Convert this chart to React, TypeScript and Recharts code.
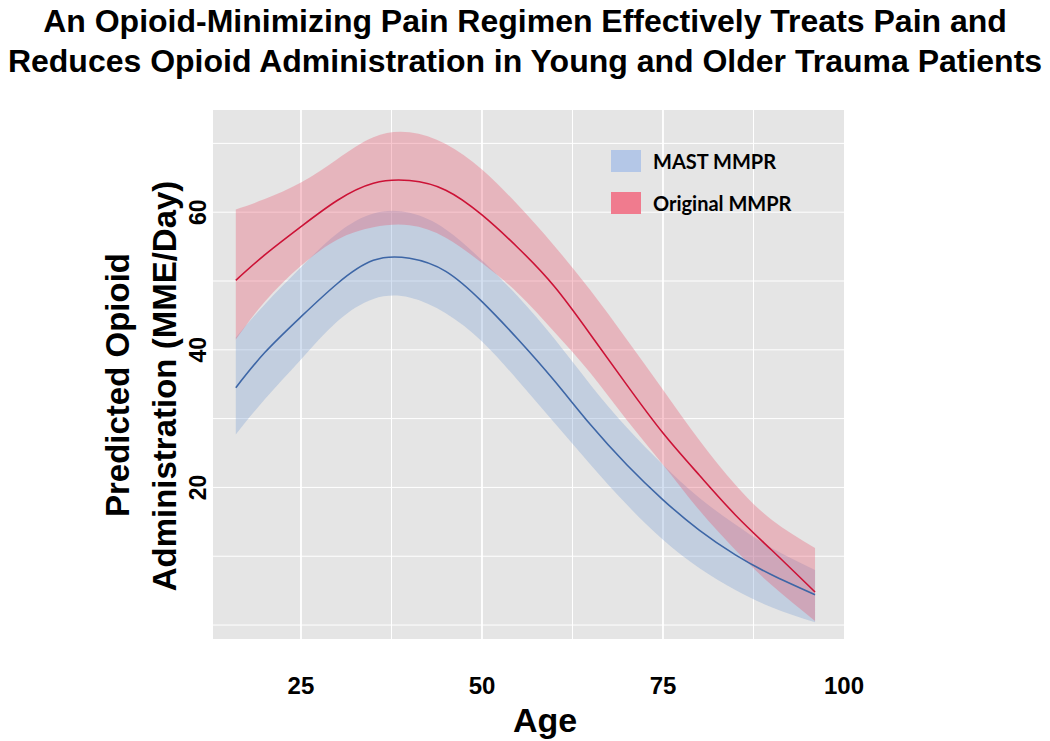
import { ComposedChart, Area, Line, XAxis, YAxis, CartesianGrid } from "recharts";

const AGES = [16, 20, 25, 30, 35, 40, 45, 50, 55, 60, 65, 70, 75, 80, 85, 90, 96];

// MAST MMPR (blue)
const MAST_FIT = [34.5, 39.6, 44.8, 49.6, 53.0, 53.3, 51.4, 47.0, 41.5, 35.5, 29.1, 23.3, 18.2, 13.8, 10.2, 7.3, 4.4];
const MAST_LOW = [27.7, 32.8, 38.6, 44.1, 47.4, 47.6, 45.3, 41.2, 35.5, 29.4, 23.3, 17.5, 12.4, 8.3, 5.1, 2.6, 0.4];
const MAST_HIGH = [41.8, 46.6, 52.0, 56.9, 59.8, 59.9, 57.5, 53.0, 47.7, 41.6, 34.9, 28.7, 23.3, 18.5, 14.6, 11.2, 8.0];

// Original MMPR (red)
const ORIG_FIT = [50.1, 53.8, 57.9, 61.7, 64.2, 64.6, 63.2, 59.6, 54.8, 49.2, 42.2, 34.9, 27.9, 21.8, 16.0, 10.9, 4.8];
const ORIG_LOW = [41.5, 47.0, 52.2, 56.0, 57.8, 58.1, 56.3, 52.6, 48.2, 42.6, 36.6, 29.8, 23.3, 16.7, 10.9, 5.8, 0.6];
const ORIG_HIGH = [60.4, 61.9, 64.3, 67.7, 70.9, 71.6, 69.9, 66.2, 61.0, 55.1, 48.6, 41.5, 34.2, 26.9, 20.4, 15.3, 11.2];

const X_TICKS = [25, 50, 75, 100];
const Y_TICKS = [20, 40, 60];
const GRID_X_MAJOR = [25, 50, 75];
const GRID_X_MINOR = [37.5, 62.5, 87.5];
const GRID_Y = [0, 10, 20, 30, 40, 50, 60, 70];

const rows = AGES.map((age, i) => ({
  age,
  mast: MAST_FIT[i],
  mastBand: [MAST_LOW[i], MAST_HIGH[i]],
  orig: ORIG_FIT[i],
  origBand: [ORIG_LOW[i], ORIG_HIGH[i]],
}));

const ARIAL = "'Liberation Sans', Arial, sans-serif";

function XTick(props: any) {
  const { x, payload } = props;
  return (
    <text x={x} y={694} textAnchor="middle" fontFamily={ARIAL} fontWeight="bold" fontSize={24} fill="#000">
      {payload.value}
    </text>
  );
}

function YTick(props: any) {
  const { y, payload } = props;
  const bx = 206;
  return (
    <text x={bx} y={y} transform={`rotate(-90, ${bx}, ${y})`} textAnchor="middle" fontFamily={ARIAL} fontWeight="bold" fontSize={23} fill="#000">
      {payload.value}
    </text>
  );
}

function LegendBox() {
  const items = [
    { label: "MAST MMPR", color: "#B4C7E7" },
    { label: "Original MMPR", color: "#F07B8E" },
  ];
  return (
    <div
      style={{
        position: "absolute",
        left: 611,
        top: 140,
        fontFamily: "Lato, 'Open Sans', sans-serif",
        fontWeight: 700,
        fontSize: 20,
        color: "#000",
      }}
    >
      {items.map((it) => (
        <div key={it.label} style={{ display: "flex", alignItems: "center", height: 42 }}>
          <span style={{ width: 30, height: 22, background: it.color, marginRight: 12, display: "inline-block" }} />
          <span>{it.label}</span>
        </div>
      ))}
    </div>
  );
}

const vText = (cx: number, cy: number, text: string) => (
  <div
    style={{
      position: "absolute",
      left: cx - 250,
      top: cy - 20,
      width: 500,
      height: 40,
      lineHeight: "40px",
      textAlign: "center",
      transform: "rotate(-90deg)",
      fontFamily: ARIAL,
      fontWeight: "bold",
      fontSize: 33,
      whiteSpace: "nowrap",
    }}
  >
    {text}
  </div>
);

export default function App() {
  return (
    <div style={{ position: "absolute", left: 0, top: 0, width: 1050, height: 741, background: "#fff" }}>
      <div
        style={{
          position: "absolute",
          left: 0,
          top: 1,
          width: 1050,
          textAlign: "center",
          fontFamily: ARIAL,
          fontWeight: "bold",
          fontSize: 32,
          lineHeight: "40px",
          color: "#000",
        }}
      >
        An Opioid-Minimizing Pain Regimen Effectively Treats Pain and
        <br />
        Reduces Opioid Administration in Young and Older Trauma Patients
      </div>

      <ComposedChart width={1050} height={741} data={rows} margin={{ top: 110, right: 206, bottom: 42, left: 173 }}>
        <CartesianGrid
          fill="#E5E5E5"
          stroke="#FFFFFF"
          strokeWidth={1}
          horizontalValues={GRID_Y}
          verticalValues={GRID_X_MINOR}
        />
        <CartesianGrid fill="none" stroke="#FFFFFF" strokeWidth={1.8} horizontal={false} verticalValues={GRID_X_MAJOR} />
        <XAxis
          dataKey="age"
          type="number"
          domain={[12.85, 100]}
          ticks={X_TICKS}
          height={60}
          axisLine={false}
          tickLine={false}
          tick={<XTick />}
          interval={0}
        />
        <YAxis
          type="number"
          domain={[-2.03, 74.85]}
          allowDataOverflow
          ticks={Y_TICKS}
          width={40}
          axisLine={false}
          tickLine={false}
          tick={<YTick />}
          interval={0}
        />
        <Area
          type="natural"
          dataKey="mastBand"
          stroke="none"
          fill="#6F98D0"
          fillOpacity={0.3}
          isAnimationActive={false}
          activeDot={false}
        />
        <Area
          type="natural"
          dataKey="origBand"
          stroke="none"
          fill="#E8506A"
          fillOpacity={0.32}
          isAnimationActive={false}
          activeDot={false}
        />
        <Line type="natural" dataKey="mast" stroke="#3D66A6" strokeWidth={1.6} dot={false} isAnimationActive={false} />
        <Line type="natural" dataKey="orig" stroke="#CC1236" strokeWidth={1.6} dot={false} isAnimationActive={false} />
      </ComposedChart>

      <LegendBox />
      {vText(118, 385, "Predicted Opioid")}
      {vText(165, 386, "Administration (MME/Day)")}
      <div
        style={{
          position: "absolute",
          left: 445,
          top: 700,
          width: 200,
          height: 40,
          lineHeight: "40px",
          textAlign: "center",
          fontFamily: ARIAL,
          fontWeight: "bold",
          fontSize: 34,
        }}
      >
        Age
      </div>
    </div>
  );
}
